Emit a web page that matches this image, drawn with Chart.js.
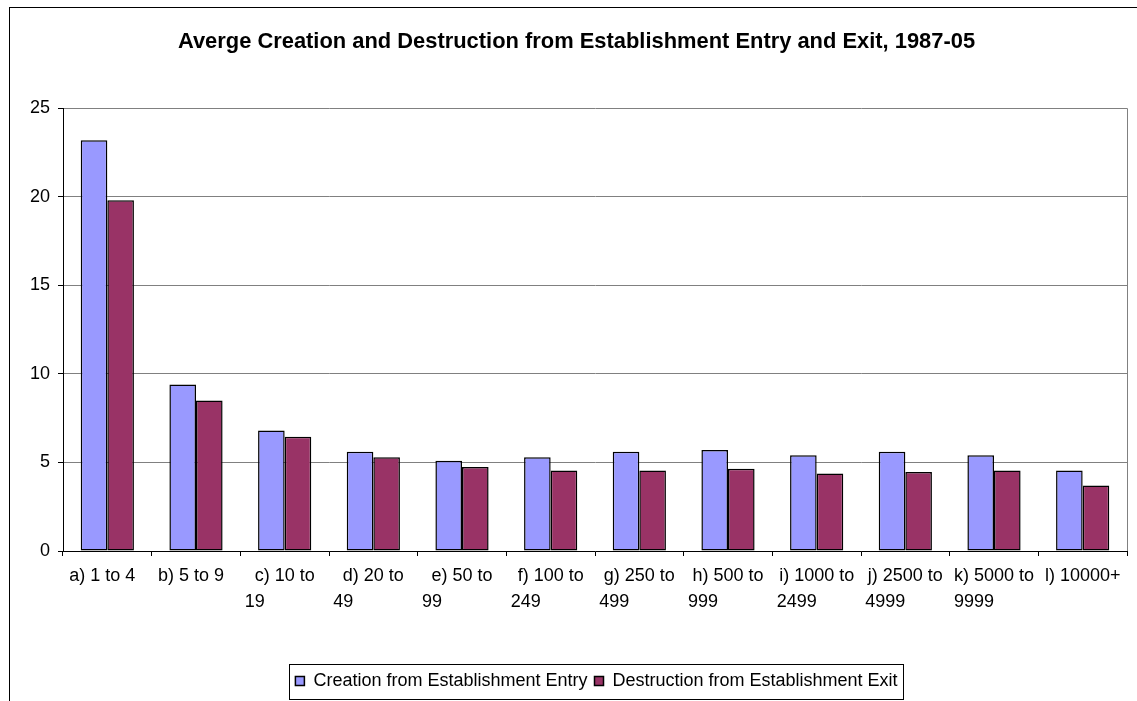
<!DOCTYPE html>
<html>
<head>
<meta charset="utf-8">
<script src="https://cdn.jsdelivr.net/npm/chart.js@4"></script>
<style>
  html, body { margin: 0; padding: 0; background: #fff; overflow: hidden; }
  #frame { position: absolute; left: 9px; top: 7px; width: 1200px; height: 800px; border: 1px solid #000; }
  #mainChart { position: absolute; left: 0; top: 0; }
</style>
</head>
<body>
<div id="frame"></div>
<canvas id="mainChart" width="1137" height="701"></canvas>
<script>
const categories = [
    ["a) 1 to 4"], ["b) 5 to 9"], ["c) 10 to", "19"], ["d) 20 to", "49"],
    ["e) 50 to", "99"], ["f) 100 to", "249"], ["g) 250 to", "499"], ["h) 500 to", "999"],
    ["i) 1000 to", "2499"], ["j) 2500 to", "4999"], ["k) 5000 to", "9999"], ["l) 10000+"]
];
const creation = [23.2, 9.4, 6.8, 5.6, 5.1, 5.3, 5.6, 5.7, 5.4, 5.6, 5.4, 4.55];
const destruction = [19.8, 8.5, 6.45, 5.3, 4.75, 4.55, 4.55, 4.65, 4.37, 4.46, 4.55, 3.7];
const yTicks = [0, 5, 10, 15, 20, 25];

const FONT = "'Liberation Sans', Arial, sans-serif";

// excel wraps the 2nd line from the left, so pad it with spaces to push it over
function wrapLabel(lines) {
    if (lines.length < 2) {
        return lines[0].indexOf(" to ") >= 0 ? lines[0] + "  " : lines[0];
    }
    let second = lines[1] + " ".repeat(Math.max(0, 16 - 2 * lines[1].length));
    return [lines[0], second];
}

const framePlugin = {
    id: "framePlugin",
    afterLayout(chart) {
        // legend sits a bit right of centre in the original
        chart.legend.left += 20;
        chart.legend.right += 20;
    },
    afterDraw(chart) {
        const c = chart.ctx;
        const a = chart.chartArea;
        c.save();
        // plot area right edge
        c.strokeStyle = "#808080";
        c.lineWidth = 1;
        c.beginPath();
        c.moveTo(Math.round(a.right) + 0.5, a.top);
        c.lineTo(Math.round(a.right) + 0.5, a.bottom);
        c.stroke();
        // box round the legend
        const boxes = chart.legend.legendHitBoxes;
        if (boxes && boxes.length) {
            let l = Math.min(...boxes.map(b => b.left));
            let r = Math.max(...boxes.map(b => b.left + b.width));
            let t = boxes[0].top;
            c.strokeStyle = "#000";
            c.strokeRect(Math.round(l - 6) + 0.5, Math.round(t - 8) + 0.5, Math.round(r - l + 12), 35);
        }
        c.restore();
    }
};

let ctx = document.getElementById("mainChart").getContext("2d");
let mainChart = new Chart(ctx, {
    type: "bar",
    data: {
        labels: categories,
        datasets: [{
            label: "Creation from Establishment Entry",
            data: creation,
            backgroundColor: "#9999FF",
            borderColor: "#000000",
            borderWidth: 1.5,
            borderSkipped: false
        }, {
            label: "Destruction from Establishment Exit",
            data: destruction,
            backgroundColor: "#993366",
            borderColor: "#000000",
            borderWidth: 1.5,
            borderSkipped: false
        }]
    },
    options: {
        responsive: false,
        animation: false,
        layout: { padding: { left: 26, right: 10, top: 0, bottom: 1 } },
        datasets: { bar: { categoryPercentage: 0.6, barPercentage: 1.0 } },
        plugins: {
            title: {
                display: true,
                text: "Averge Creation and Destruction from Establishment Entry and Exit, 1987-05",
                color: "#000",
                font: { family: FONT, size: 21.9, weight: "bold" },
                padding: { top: 29, bottom: 53 }
            },
            legend: {
                position: "bottom",
                labels: {
                    color: "#000",
                    font: { family: FONT, size: 18 },
                    boxWidth: 9,
                    boxHeight: 9,
                    padding: 7
                }
            },
            tooltip: { enabled: false }
        },
        scales: {
            x: {
                grid: { display: true, drawOnChartArea: false, drawTicks: true, tickLength: 5, color: "#000" },
                border: { color: "#000", width: 1 },
                ticks: {
                    color: "#000",
                    font: { family: FONT, size: 18, lineHeight: "26px" },
                    padding: 7,
                    maxRotation: 0,
                    autoSkip: false,
                    callback: function (value, index) { return wrapLabel(categories[index]); }
                },
                afterFit: function (scale) { scale.height = 114; }
            },
            y: {
                min: 0,
                max: 25,
                afterBuildTicks: function (scale) { scale.ticks = yTicks.map(v => ({ value: v })); },
                grid: { color: "#808080", tickColor: "#000", tickLength: 5 },
                border: { color: "#000", width: 1 },
                ticks: {
                    color: "#000",
                    font: { family: FONT, size: 18 },
                    padding: 8
                },
                afterFit: function (scale) { scale.width = 37; }
            }
        }
    },
    plugins: [framePlugin]
});
</script>
</body>
</html>
